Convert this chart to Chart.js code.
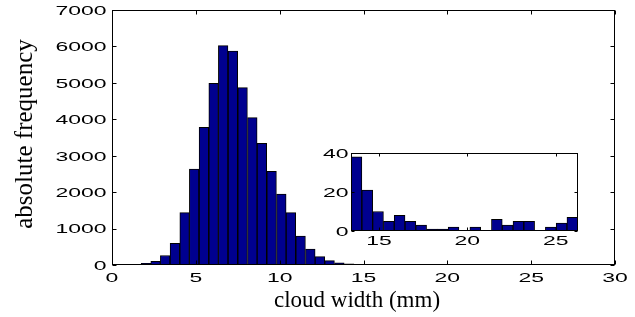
<!DOCTYPE html>
<html>
<head>
<meta charset="utf-8">
<script src="https://cdn.jsdelivr.net/npm/chart.js@4/dist/chart.umd.min.js"></script>
<style>
  html, body { margin: 0; padding: 0; background: #fff; }
  #wrap { position: relative; width: 635px; height: 317px; }
  #mainChart { position: absolute; left: 0; top: 0; }
  #insetChart { position: absolute; left: 300px; top: 130px; }
</style>
</head>
<body>
<div id="wrap">
  <canvas id="mainChart" width="635" height="317"></canvas>
  <canvas id="insetChart" width="300" height="130"></canvas>
</div>
<script>
// Main histogram: bin centres (mm) and counts
const mainBins = [0.29, 0.87, 1.44, 2.02, 2.60, 3.17, 3.75, 4.33, 4.90, 5.48,
    6.06, 6.63, 7.21, 7.79, 8.37, 8.94, 9.52, 10.10, 10.67, 11.25,
    11.83, 12.40, 12.98, 13.56, 14.14, 14.71, 15.29, 15.87, 16.44, 17.02,
    17.60, 18.18, 18.75, 19.33, 19.91, 20.48, 21.06, 21.64, 22.21, 22.79,
    23.37, 23.94, 24.52, 25.10, 25.67];
const mainCounts = [0, 0, 0, 45, 100, 260, 595, 1436, 2635, 3780,
    4987, 6020, 5874, 4867, 4044, 3340, 2572, 1949, 1436, 796,
    439, 228, 118, 60, 35, 14, 8, 6, 4, 2,
    1, 2, 1, 2, 1, 3, 4, 4, 5, 2,
    1, 2, 4, 6, 3];
const mainXTicks = [0, 5, 10, 15, 20, 25, 30];
const mainYTicks = [0, 1000, 2000, 3000, 4000, 5000, 6000, 7000];

// Inset: tail of the distribution
const insetBins = [13.73, 14.34, 14.95, 15.56, 16.17, 16.78, 17.39, 18.00, 18.61, 19.22,
    19.84, 20.45, 21.06, 21.67, 22.28, 22.89, 23.50, 24.11, 24.72, 25.33, 25.94];
const insetCounts = [38, 21, 10, 5, 8, 5, 3, 1, 1, 2,
    0, 2, 0, 6, 3, 5, 5, 0, 2, 4, 7];
const insetXTicks = [15, 20, 25];
const insetYTicks = [0, 20, 40];

const barFill = '#00008f';
const tickFont = '13.5px "Liberation Sans", Arial, sans-serif';
const tickStretch = 1.7;

function stretchedText(ctx, txt, x, y, align) {
    ctx.save();
    ctx.translate(x, y);
    ctx.scale(tickStretch, 1);
    ctx.textAlign = align;
    ctx.textBaseline = 'alphabetic';
    ctx.fillText(txt, 0, 0);
    ctx.restore();
}

// draws the box, inward ticks and labels (matlab style)
function axesPlugin(cfg) {
    return {
        id: 'matlabAxes',
        afterDraw(chart) {
            const ctx = chart.ctx;
            const a = chart.chartArea;
            const xs = chart.scales.x, ys = chart.scales.y;
            const L = Math.round(a.left) + 0.5, R = Math.round(a.right) - 0.5;
            const T = Math.round(a.top) + 0.5, B = Math.round(a.bottom) - 0.5;
            ctx.save();
            ctx.strokeStyle = '#000';
            ctx.lineWidth = 1;
            ctx.strokeRect(L, T, R - L, B - T);
            ctx.beginPath();
            cfg.xTicks.forEach(v => {
                const px = Math.round(xs.getPixelForValue(v)) + 0.5;
                ctx.moveTo(px, B); ctx.lineTo(px, B - cfg.tickLen);
                ctx.moveTo(px, T); ctx.lineTo(px, T + cfg.tickLen);
            });
            cfg.yTicks.forEach(v => {
                const py = Math.round(ys.getPixelForValue(v)) + 0.5;
                ctx.moveTo(L, py); ctx.lineTo(L + cfg.tickLen, py);
                ctx.moveTo(R, py); ctx.lineTo(R - cfg.tickLen, py);
            });
            ctx.stroke();

            ctx.fillStyle = '#000';
            ctx.font = tickFont;
            cfg.xTicks.forEach(v => {
                stretchedText(ctx, String(v), xs.getPixelForValue(v), B + cfg.xLabelDrop, 'center');
            });
            cfg.yTicks.forEach(v => {
                stretchedText(ctx, String(v), L - cfg.yLabelGap, ys.getPixelForValue(v) + 4.8, 'right');
            });

            if (cfg.xTitle) {
                ctx.font = '23px "Liberation Serif", "Times New Roman", serif';
                ctx.textAlign = 'center';
                ctx.textBaseline = 'alphabetic';
                ctx.fillText(cfg.xTitle, 357, 307);
            }
            if (cfg.yTitle) {
                ctx.font = '25px "Liberation Serif", "Times New Roman", serif';
                ctx.translate(32, 134);
                ctx.rotate(-Math.PI / 2);
                ctx.textAlign = 'center';
                ctx.textBaseline = 'alphabetic';
                ctx.fillText(cfg.yTitle, 0, 0);
            }
            ctx.restore();
        }
    };
}

function makeHist(id, bins, counts, xr, yr, padding, cfg) {
    const ctx = document.getElementById(id).getContext('2d');
    return new Chart(ctx, {
        type: 'bar',
        data: {
            datasets: [{
                data: bins.map((x, i) => ({ x: x, y: counts[i] })),
                backgroundColor: barFill,
                borderColor: '#000',
                borderWidth: 1,
                barPercentage: 1,
                categoryPercentage: 1
            }]
        },
        options: {
            responsive: false,
            animation: false,
            devicePixelRatio: 1,
            layout: { padding: padding },
            plugins: { legend: { display: false }, tooltip: { enabled: false } },
            scales: {
                x: { type: 'linear', min: xr[0], max: xr[1], offset: false, bounds: 'ticks', display: false },
                y: { min: yr[0], max: yr[1], display: false }
            }
        },
        plugins: [axesPlugin(cfg)]
    });
}

makeHist('mainChart', mainBins, mainCounts, [0, 30], [0, 7000],
    { left: 112, right: 20, top: 10, bottom: 52 },
    { xTicks: mainXTicks, yTicks: mainYTicks, tickLen: 4, xLabelDrop: 17, yLabelGap: 6,
      xTitle: 'cloud width (mm)', yTitle: 'absolute frequency' });

makeHist('insetChart', insetBins, insetCounts, [13.42, 26.26], [0, 40],
    { left: 51, right: 22, top: 23, bottom: 29 },
    { xTicks: insetXTicks, yTicks: insetYTicks, tickLen: 3, xLabelDrop: 14, yLabelGap: 3 });
</script>
</body>
</html>
